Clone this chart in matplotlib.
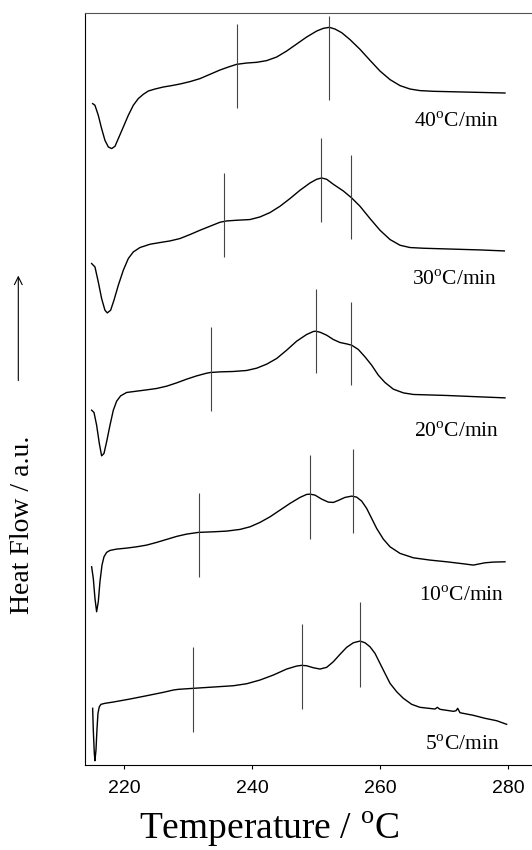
import matplotlib
matplotlib.use("Agg")
import matplotlib.pyplot as plt

plt.rcParams['mathtext.fontset'] = 'custom'
plt.rcParams['mathtext.rm'] = 'Liberation Serif'

# DSC traces (temperature in C, heat flow in a.u., curves stacked)
t40 = [215.06, 215.42, 215.94, 216.46, 216.98, 217.51, 218.03, 218.55, 219.07, 219.85,
       220.63, 221.41, 222.19, 222.97, 223.76, 224.80, 226.10, 227.40, 228.70, 230.27,
       231.83, 233.39, 234.95, 236.26, 237.56, 239.12, 240.68, 242.24, 243.81, 245.37,
       246.93, 248.49, 250.06, 251.10, 252.04, 252.92, 253.96, 255.27, 256.83, 258.39,
       259.95, 261.52, 263.08, 264.64, 266.20, 268.29, 272.97, 279.48]
hf40 = [661.7, 660.0, 650.0, 636.7, 625.0, 618.3, 616.7, 619.0, 626.7, 638.3,
        650.0, 660.0, 666.7, 671.0, 674.3, 676.3, 678.3, 679.7, 681.3, 683.7,
        686.7, 691.0, 695.3, 698.3, 701.0, 702.3, 703.0, 704.7, 708.3, 714.3,
        721.3, 728.3, 734.3, 737.0, 738.0, 736.3, 732.7, 725.7, 716.0, 705.0,
        694.3, 685.7, 679.7, 676.3, 674.7, 674.0, 673.3, 672.3]

t30 = [214.90, 215.42, 215.94, 216.46, 216.98, 217.35, 217.87, 218.39, 219.07, 219.85,
       220.63, 221.41, 222.45, 224.02, 225.58, 227.14, 228.70, 230.27, 231.83, 233.39,
       234.95, 235.99, 237.56, 239.64, 241.20, 242.77, 244.33, 245.89, 247.45, 249.02,
       250.06, 250.84, 251.62, 252.66, 254.22, 255.53, 256.83, 258.39, 259.95, 261.52,
       263.08, 264.64, 266.72, 270.37, 275.58, 279.38]
hf30 = [501.7, 498.3, 483.3, 466.7, 455.0, 452.3, 455.0, 465.0, 480.0, 495.0,
        506.7, 513.3, 517.7, 521.0, 522.7, 524.3, 526.7, 530.7, 535.0, 539.0,
        543.0, 544.3, 545.0, 545.7, 548.3, 552.7, 559.0, 566.7, 575.0, 582.3,
        586.0, 587.3, 586.0, 581.0, 574.3, 567.3, 559.0, 546.7, 535.0, 525.7,
        520.0, 517.7, 517.0, 516.3, 515.3, 514.3]

t20 = [214.90, 215.27, 215.68, 216.10, 216.46, 216.83, 217.24, 217.77, 218.29, 218.81,
       219.43, 220.37, 221.93, 223.49, 225.06, 226.62, 228.18, 229.74, 231.31, 232.87,
       233.49, 234.95, 237.04, 239.12, 240.68, 242.24, 243.81, 245.37, 246.93, 248.49,
       249.54, 249.90, 250.58, 251.62, 252.66, 253.70, 254.74, 255.53, 256.57, 257.61,
       258.65, 259.69, 260.73, 262.04, 263.60, 265.16, 270.37, 275.58, 279.48]
hf20 = [355.0, 352.7, 340.0, 321.7, 309.3, 311.7, 323.3, 340.0, 355.0, 364.0,
        369.3, 372.7, 374.0, 375.3, 376.7, 379.0, 382.3, 386.0, 389.3, 392.0,
        392.7, 393.3, 393.7, 394.7, 397.0, 401.0, 406.7, 415.0, 424.0, 430.7,
        433.7, 434.0, 433.0, 430.0, 425.7, 422.7, 421.3, 420.0, 415.7, 408.3,
        400.0, 390.0, 382.7, 376.0, 372.3, 370.7, 369.7, 368.3, 367.3]

t10 = [214.90, 215.16, 215.42, 215.68, 215.94, 216.20, 216.52, 216.83, 217.24, 217.77,
       218.81, 220.37, 221.93, 223.49, 225.06, 226.62, 228.18, 229.74, 231.57, 233.91,
       235.99, 238.08, 239.64, 241.20, 242.77, 244.33, 245.89, 247.45, 248.49, 249.02,
       249.80, 250.84, 251.88, 252.66, 253.44, 254.48, 255.53, 256.31, 257.09, 257.87,
       258.65, 259.43, 260.47, 261.52, 263.08, 265.16, 267.77, 270.37, 272.97, 274.54,
       275.32, 276.36, 277.66, 279.48]
hf10 = [198.3, 186.7, 166.7, 153.3, 163.3, 183.3, 200.0, 208.3, 212.7, 214.7,
        216.0, 217.0, 218.3, 220.0, 222.7, 225.7, 228.7, 231.0, 232.7, 233.3,
        234.0, 235.7, 238.3, 242.7, 248.3, 255.0, 261.7, 267.7, 270.7, 271.0,
        270.0, 266.0, 263.0, 262.7, 264.7, 267.7, 269.0, 268.0, 264.0, 256.7,
        246.7, 236.7, 226.0, 218.3, 211.7, 207.3, 205.0, 203.3, 201.3, 200.0,
        201.0, 202.3, 203.0, 203.3]

t5 = [215.06, 215.16, 215.32, 215.42, 215.58, 215.73, 215.89, 216.10, 216.36, 216.98,
      218.29, 220.89, 223.49, 226.10, 227.66, 228.44, 230.79, 233.91, 237.04, 239.12,
      241.20, 243.29, 245.37, 246.93, 247.71, 248.49, 249.54, 250.58, 251.62, 252.66,
      253.70, 254.74, 255.79, 256.83, 257.61, 258.39, 259.17, 259.95, 260.73, 261.52,
      262.56, 263.60, 264.90, 266.20, 268.55, 268.91, 269.33, 271.41, 271.83, 272.09,
      272.45, 274.54, 276.36, 278.18, 279.74]
hf5 = [56.7, 35.0, 11.7, 4.3, 15.0, 35.0, 51.7, 58.3, 60.7, 61.7,
       63.0, 66.0, 69.3, 72.7, 75.0, 75.7, 76.7, 78.0, 79.3, 81.3,
       85.0, 90.0, 96.0, 99.0, 99.7, 99.3, 97.3, 96.0, 97.7, 103.3,
       110.7, 117.7, 122.3, 124.0, 122.3, 118.3, 111.7, 101.7, 91.7, 81.7,
       73.3, 66.7, 60.7, 57.7, 56.0, 57.7, 55.7, 53.7, 54.3, 56.7,
       52.3, 49.7, 46.7, 44.3, 40.7]

# vertical marker lines: (temperature, low, high)
marks40 = [(237.66, 657.3, 741.7), (252.0, 665.0, 749.0)]
marks30 = [(235.6, 508.3, 592.3), (250.8, 543.3, 627.7), (255.5, 526.7, 610.7)]
marks20 = [(233.5, 354.0, 438.3), (249.9, 392.3, 476.0), (255.5, 380.0, 463.3)]
marks10 = [(231.7, 188.3, 272.3), (249.0, 225.7, 310.0), (255.7, 231.7, 316.0)]
marks5 = [(230.8, 33.3, 117.7), (247.8, 56.0, 140.7), (256.9, 78.3, 162.7)]

rates = ['40', '30', '20', '10', '5']
label_t = [278.5, 278.2, 278.5, 279.3, 278.6]
label_y = [643.3, 485.0, 333.3, 168.3, 20.0]

fig = plt.figure(figsize=(5.32, 8.5), dpi=100)
ax = fig.add_axes([0.159, 0.1, 0.841, 0.8843])

curves = [(t40, hf40), (t30, hf30), (t20, hf20), (t10, hf10), (t5, hf5)]
for t, hf in curves:
    ax.plot(t, hf, color='black', lw=1.0, solid_joinstyle='round')

for marks in [marks40, marks30, marks20, marks10, marks5]:
    for t, lo, hi in marks:
        ax.vlines(t, lo, hi, color='#444444', lw=0.8)

for r, tx, ty in zip(rates, label_t, label_y):
    ax.text(tx, ty, r + r'$^{\mathrm{o}}$C/min', ha='right', va='center',
            fontsize=15.5, family='Liberation Serif')

ax.set_xlim(213.8, 283.7)
ax.set_ylim(0, 752)
ax.set_xticks([220, 240, 260, 280])
ax.set_yticks([])
ax.tick_params(axis='x', direction='out', length=3, width=0.8, pad=8, labelsize=14)
for lab in ax.get_xticklabels():
    lab.set_family('Liberation Sans')
ax.spines['right'].set_visible(False)
for s in ['left', 'top', 'bottom']:
    ax.spines[s].set_linewidth(0.8)
ax.spines['top'].set_color('#555555')

fig.text(0.506, 0.013, r'Temperature / $^{\mathrm{o}}$C', ha='center', va='baseline',
         fontsize=27, family='Liberation Serif')
fig.text(0.042, 0.382, 'Heat Flow / a.u.', ha='center', va='center', rotation=90,
         fontsize=20, family='Liberation Serif')
fig.add_artist(matplotlib.patches.FancyArrowPatch((0.0344, 0.549), (0.0344, 0.679),
               transform=fig.transFigure, arrowstyle='->', mutation_scale=14,
               color='black', lw=0.8))

fig.savefig('out.png', dpi=100)
